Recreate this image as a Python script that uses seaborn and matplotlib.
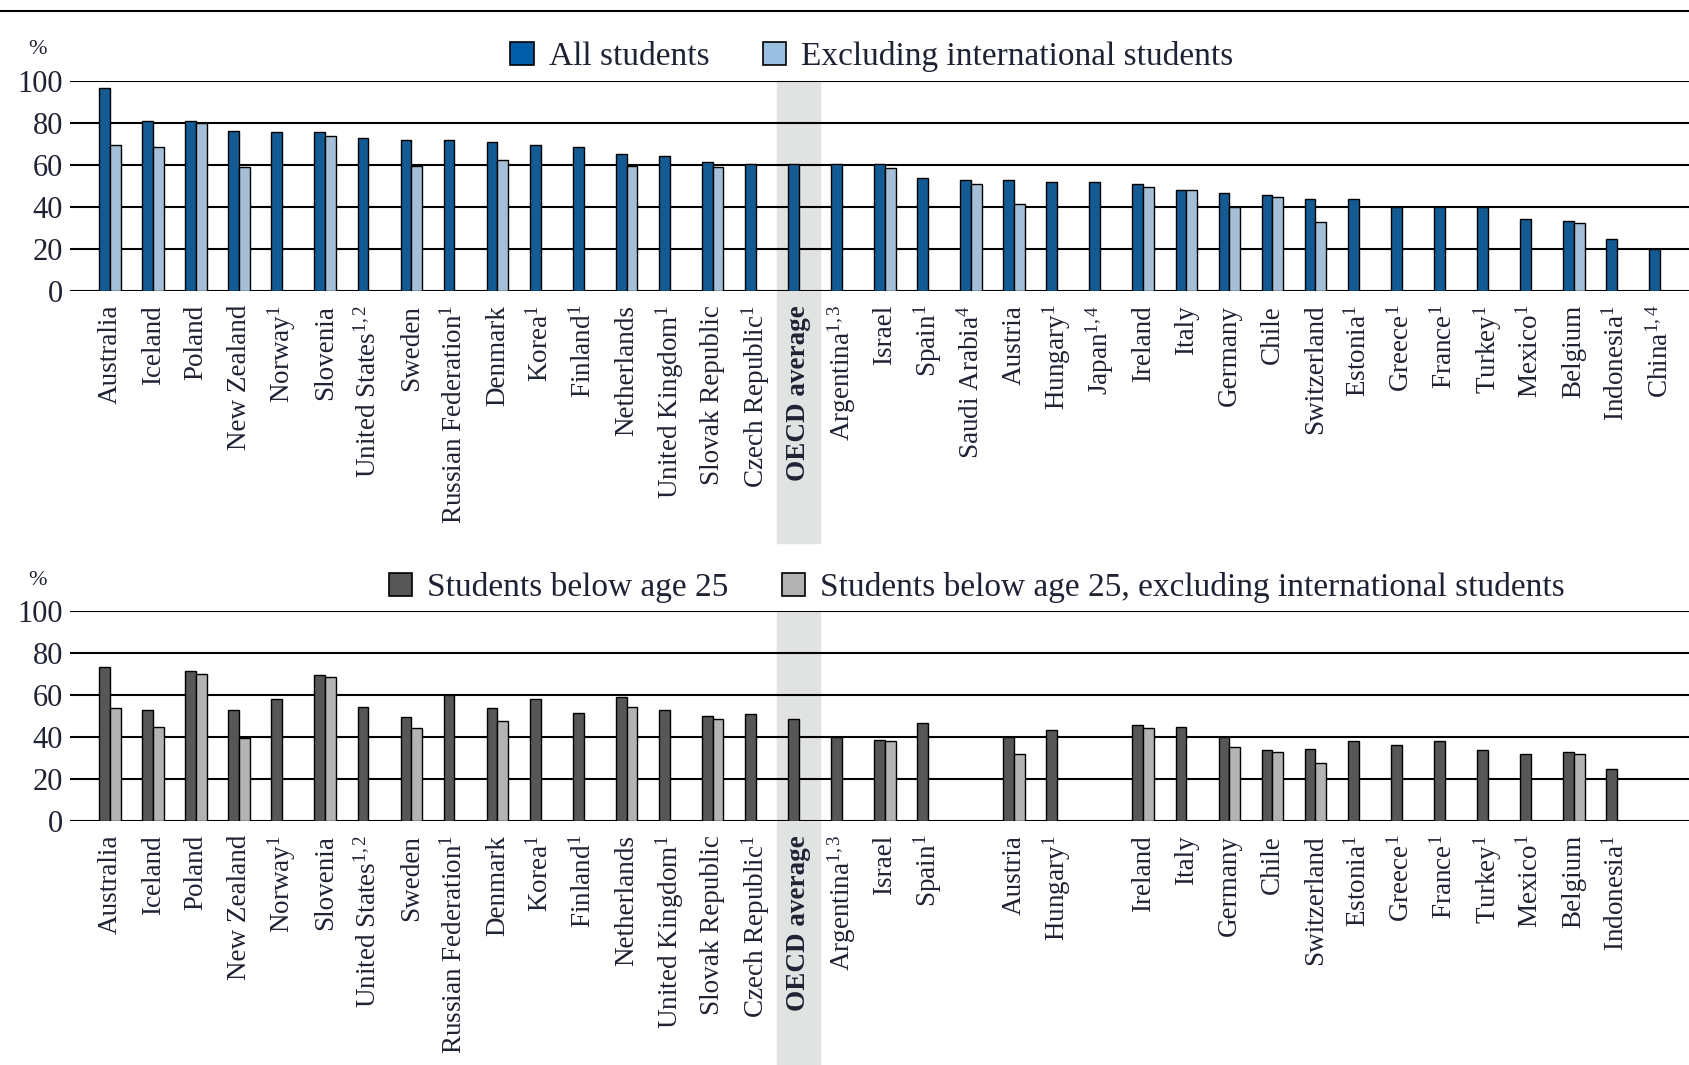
import numpy as np
import pandas as pd
import matplotlib
matplotlib.use('Agg')
import matplotlib.pyplot as plt
from matplotlib.patches import Patch, Rectangle
from matplotlib.lines import Line2D
import matplotlib.transforms as mtransforms
import seaborn as sns

# categories (top panel order)
countries = ['Australia', 'Iceland', 'Poland', 'New Zealand', 'Norway', 'Slovenia',
             'United States', 'Sweden', 'Russian Federation', 'Denmark', 'Korea',
             'Finland', 'Netherlands', 'United Kingdom', 'Slovak Republic',
             'Czech Republic', 'OECD average', 'Argentina', 'Israel', 'Spain',
             'Saudi Arabia', 'Austria', 'Hungary', 'Japan', 'Ireland', 'Italy',
             'Germany', 'Chile', 'Switzerland', 'Estonia', 'Greece', 'France',
             'Turkey', 'Mexico', 'Belgium', 'Indonesia', 'China']

# tick labels with footnote marks
top_labels = ['Australia', 'Iceland', 'Poland', 'New Zealand', 'Norway$^{1}$', 'Slovenia',
              'United States$^{1,2}$', 'Sweden', 'Russian Federation$^{1}$', 'Denmark',
              'Korea$^{1}$', 'Finland$^{1}$', 'Netherlands', 'United Kingdom$^{1}$',
              'Slovak Republic', 'Czech Republic$^{1}$', 'OECD average', 'Argentina$^{1,3}$',
              'Israel', 'Spain$^{1}$', 'Saudi Arabia$^{4}$', 'Austria', 'Hungary$^{1}$',
              'Japan$^{1,4}$', 'Ireland', 'Italy', 'Germany', 'Chile', 'Switzerland',
              'Estonia$^{1}$', 'Greece$^{1}$', 'France$^{1}$', 'Turkey$^{1}$', 'Mexico$^{1}$',
              'Belgium', 'Indonesia$^{1}$', 'China$^{1,4}$']
bottom_labels = [l if c not in ('Saudi Arabia', 'Japan', 'China') else ''
                 for l, c in zip(top_labels, countries)]

nan = np.nan
# top panel (%)
all_students = [96.5, 80.8, 80.8, 76.3, 75.6, 75.6, 73.0, 71.9, 71.9, 71.1, 69.4,
                68.6, 65.1, 64.3, 61.4, 60.5, 60.3, 60.3, 60.3, 53.7, 52.9, 52.9,
                51.9, 51.9, 51.1, 48.3, 46.8, 45.7, 44.0, 44.0, 40.2, 40.0, 40.0,
                34.3, 33.5, 24.8, 19.8]
excl_international = [69.4, 68.6, 79.8, 58.9, nan, 73.8, nan, 59.3, nan, 62.2, nan,
                      nan, 59.5, nan, 58.9, nan, nan, nan, 58.7, nan, 51.1, 41.4,
                      nan, nan, 49.4, 48.3, 39.8, 44.9, 32.7, nan, nan, nan, nan,
                      nan, 32.5, nan, nan]
# bottom panel (%)
below_25 = [73.1, 52.8, 71.2, 52.8, 58.2, 69.4, 54.5, 49.3, 60.0, 53.6, 58.0,
            51.2, 59.0, 52.8, 50.2, 51.0, 48.5, 39.8, 38.8, 46.6, nan, 39.8,
            43.1, nan, 45.8, 44.8, 39.8, 33.6, 34.4, 37.9, 36.1, 37.9, 33.6,
            31.7, 32.8, 24.9, nan]
below_25_excl = [53.6, 45.0, 70.2, 39.6, nan, 68.6, nan, 44.1, nan, 47.5, nan,
                 nan, 54.5, nan, 48.5, nan, nan, nan, 38.0, nan, nan, 31.7,
                 nan, nan, 44.1, nan, 35.3, 32.8, 27.4, nan, nan, nan, nan,
                 nan, 31.9, nan, nan]

top_series = ['All students', 'Excluding international students']
bottom_series = ['Students below age 25',
                 'Students below age 25, excluding international students']

plt.rcParams['font.family'] = ['Liberation Serif', 'DejaVu Serif']
plt.rcParams['mathtext.fontset'] = 'custom'
plt.rcParams['mathtext.rm'] = 'Liberation Serif'
plt.rcParams['mathtext.it'] = 'Liberation Serif:italic'
plt.rcParams['mathtext.bf'] = 'Liberation Serif:bold'
text_color = '#1f2233'

fig = plt.figure(figsize=(16.9, 10.65), dpi=100)
ax1 = fig.add_axes([0.0414, 0.7268, 0.9586, 0.1972])
ax2 = fig.add_axes([0.0414, 0.2291, 0.9586, 0.1972])

# rule under the (cropped) title
fig.add_artist(Line2D([0, 1], [1 - 11 / 1065] * 2, color='black', lw=1.5))

oecd_idx = countries.index('OECD average')


def panel(ax, v1, v2, names, colors, labels, band_bottom, leg_x, leg_y, pct_y):
    df = pd.DataFrame({'country': countries * 2,
                       'value': list(v1) + list(v2),
                       'series': [names[0]] * len(countries) + [names[1]] * len(countries)})
    sns.barplot(data=df, x='country', y='value', hue='series', order=countries,
                hue_order=names, palette=colors, width=0.5, gap=0,
                edgecolor='black', linewidth=1.0, legend=False, ax=ax, zorder=3)
    ax.set_ylim(0, 100)
    ax.set_xlim(-0.93, len(countries) - 0.3)
    ax.set_yticks(range(0, 101, 20))
    ax.grid(axis='y', color='black', lw=1.5, zorder=2)
    ax.grid(axis='x', visible=False)
    ax.set_axisbelow(False)
    for s in ['top', 'right', 'left', 'bottom']:
        ax.spines[s].set_visible(False)
    ax.set_xlabel('')
    ax.set_ylabel('')
    ax.set_xticks(range(len(countries)))
    ax.set_xticklabels(labels, rotation=90)
    ax.tick_params(axis='x', length=0, pad=10, labelsize=19.5, labelcolor=text_color)
    ax.tick_params(axis='y', length=0, pad=5, labelsize=22, labelcolor=text_color)
    ax.get_xticklabels()[oecd_idx].set_fontweight('bold')
    # shaded band behind OECD average
    trans = mtransforms.blended_transform_factory(ax.transData, ax.transAxes)
    ax.add_patch(Rectangle((oecd_idx - 0.5, band_bottom), 1.0, 1 - band_bottom,
                           transform=trans, color='#e1e2e2', zorder=0, clip_on=False))
    ax.text(-0.02, pct_y, '%', transform=ax.transAxes, fontsize=16,
            color=text_color, ha='center', va='center')
    handles = [Patch(facecolor=colors[0], edgecolor='black', lw=1.2),
               Patch(facecolor=colors[1], edgecolor='black', lw=1.2)]
    ax.legend(handles, names, loc='center', bbox_to_anchor=(leg_x, leg_y), ncol=2,
              frameon=False, fontsize=24, handlelength=0.7, handleheight=0.7,
              handletextpad=0.45, columnspacing=1.6, labelcolor=text_color)


panel(ax1, all_students, excl_international, top_series, ['#005da8', '#9bbfe0'],
      top_labels, -1.2, 0.495, 1.115, 1.15)
panel(ax2, below_25, below_25_excl, bottom_series, ['#575757', '#b3b3b3'],
      bottom_labels, -1.2, 0.56, 1.11, 1.143)

fig.savefig('out.png', dpi=100)
